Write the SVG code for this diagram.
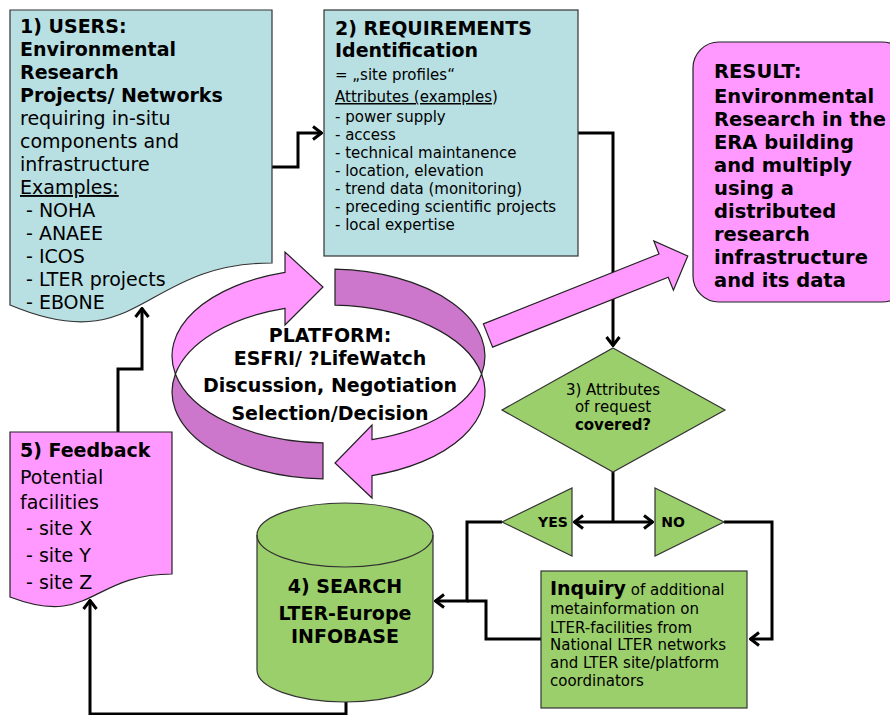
<svg xmlns="http://www.w3.org/2000/svg" width="890" height="715" viewBox="0 0 890 715">
<defs>
<style>
.t{font-family:"DejaVu Sans",Verdana,sans-serif;fill:#000}
.b{font-weight:bold}
.s19{font-size:19px}
.s15{font-size:15px}
.s20{font-size:19.5px}
.s14{font-size:14px}
.blue{fill:#B8DFE2;stroke:#333;stroke-width:1.2}
.green{fill:#9BCF6B;stroke:#333;stroke-width:1.2}
.pink{fill:#FF99FF;stroke:#222;stroke-width:1.2}
.dark{fill:#CC77CC;stroke:#222;stroke-width:1.2}
.c{fill:none;stroke:#000;stroke-width:3}
</style>
<marker id="ah" viewBox="0 0 12 16" refX="11" refY="8" markerWidth="12" markerHeight="16" markerUnits="userSpaceOnUse" orient="auto">
<path d="M2,1.5 L10.5,8 L2,14.5" fill="none" stroke="#000" stroke-width="3"/>
</marker>
</defs>
<rect width="890" height="715" fill="#fff"/>

<g id="connectors">
<polyline class="c" points="272,167 298,167 298,133 322,133" marker-end="url(#ah)"/>
<polyline class="c" points="578,133 613,133 613,346" marker-end="url(#ah)"/>
<polyline class="c" points="613,472 613,522"/>
<polyline class="c" points="613,522 574,522" marker-end="url(#ah)"/>
<polyline class="c" points="613,522 653,522" marker-end="url(#ah)"/>
<polyline class="c" points="502,522 467,522 467,601 435,601" marker-end="url(#ah)"/>
<polyline class="c" points="541,639 486,639 486,601 467,601"/>
<polyline class="c" points="724,522 772,522 772,639 750,639" marker-end="url(#ah)"/>
<polyline class="c" points="346,702 346,714 90,714 90,600" marker-end="url(#ah)"/>
<polyline class="c" points="118,432 118,369 142,369 142,308" marker-end="url(#ah)"/>
</g>

<g id="users">
<path class="blue" d="M10,10 H272 V263 C141,263 141,360 10,305 Z"/>
<text class="t b s19" x="20" y="33">1) USERS:</text>
<text class="t b s19" x="20" y="56">Environmental</text>
<text class="t b s19" x="20" y="79">Research</text>
<text class="t b s19" x="20" y="102">Projects/ Networks</text>
<text class="t s19" x="20" y="125">requiring in-situ</text>
<text class="t s19" x="20" y="148">components and</text>
<text class="t s19" x="20" y="171">infrastructure</text>
<text class="t s19" x="20" y="194" text-decoration="underline">Examples:</text>
<text class="t s19" x="26" y="217">- NOHA</text>
<text class="t s19" x="26" y="240">- ANAEE</text>
<text class="t s19" x="26" y="263">- ICOS</text>
<text class="t s19" x="26" y="286">- LTER projects</text>
<text class="t s19" x="26" y="309">- EBONE</text>
</g>

<g id="requirements">
<rect class="blue" x="324" y="10" width="254" height="246"/>
<text class="t b s19" x="335" y="35">2) REQUIREMENTS</text>
<text class="t b s19" x="335" y="57">Identification</text>
<text class="t s15" x="335" y="80">= „site profiles“</text>
<text class="t s15" x="335" y="102"><tspan text-decoration="underline">Attributes (examples</tspan>)</text>
<text class="t s15" x="335" y="122">- power supply</text>
<text class="t s15" x="335" y="140">- access</text>
<text class="t s15" x="335" y="158">- technical maintanence</text>
<text class="t s15" x="335" y="176">- location, elevation</text>
<text class="t s15" x="335" y="194">- trend data (monitoring)</text>
<text class="t s15" x="335" y="212">- preceding scientific projects</text>
<text class="t s15" x="335" y="230">- local expertise</text>
</g>

<g id="result">
<rect class="pink" x="693" y="42" width="215" height="260" rx="26" ry="26"/>
<text class="t b s20" x="714" y="78">RESULT:</text>
<text class="t b s20" x="714" y="103">Environmental</text>
<text class="t b s20" x="714" y="126">Research in the</text>
<text class="t b s20" x="714" y="149">ERA building</text>
<text class="t b s20" x="714" y="172">and multiply</text>
<text class="t b s20" x="714" y="195">using a</text>
<text class="t b s20" x="714" y="218">distributed</text>
<text class="t b s20" x="714" y="241">research</text>
<text class="t b s20" x="714" y="264">infrastructure</text>
<text class="t b s20" x="714" y="287">and its data</text>
</g>

<g id="result-arrow">
<path class="pink" transform="translate(488,335.5) rotate(-21.7)" d="M0,-12.5 L189,-12.5 L189,-26.5 L215,0 L189,26.5 L189,12.5 L0,12.5 Z"/>
</g>

<g id="platform">
<path class="pink" d="M175.4,374 A156.5,87 0 0 1 285,272.4 L285,252 L323,287 L285,325 L285,308.4 A156.5,87 0 0 0 175.4,374 Z"/>
<path class="dark" d="M335,269.1 A156.5,87 0 0 1 481.6,374 A156.5,87 0 0 0 335,305.1 Z"/>
<path class="pink" d="M481.6,374 A156.5,87 0 0 1 372,475.6 L372,498 L335,463 L372,425 L372,439.6 A156.5,87 0 0 0 481.6,374 Z"/>
<path class="dark" d="M323,442.9 A156.5,87 0 0 1 175.4,374 A156.5,87 0 0 0 323,478.9 Z"/>
<text class="t b s19" x="330" y="342" text-anchor="middle">PLATFORM:</text>
<text class="t b s19" x="330" y="365" text-anchor="middle">ESFRI/ ?LifeWatch</text>
<text class="t b s19" x="330" y="392" text-anchor="middle">Discussion, Negotiation</text>
<text class="t b s19" x="330" y="420" text-anchor="middle">Selection/Decision</text>
</g>

<g id="decision">
<polygon class="green" points="613,348 725,410 613,472 502,410"/>
<text class="t s15" x="613" y="395" text-anchor="middle">3) Attributes</text>
<text class="t s15" x="613" y="412" text-anchor="middle">of request</text>
<text class="t b s15" x="613" y="430" text-anchor="middle">covered?</text>
</g>

<g id="yes">
<polygon class="green" points="502,522 572,488 572,556"/>
<text class="t b s14" x="553" y="527" text-anchor="middle">YES</text>
</g>

<g id="no">
<polygon class="green" points="655,488 724,522 655,556"/>
<text class="t b s14" x="673" y="527" text-anchor="middle">NO</text>
</g>

<g id="inquiry">
<rect class="green" x="541" y="571" width="206" height="137"/>
<text class="t s15" x="550" y="595"><tspan class="b s19">Inquiry</tspan> of additional</text>
<text class="t s15" x="550" y="614">metainformation on</text>
<text class="t s15" x="550" y="633">LTER-facilities from</text>
<text class="t s15" x="550" y="650">National LTER networks</text>
<text class="t s15" x="550" y="668">and LTER site/platform</text>
<text class="t s15" x="550" y="686">coordinators</text>
</g>

<g id="search">
<path class="green" d="M257,535 A88,32 0 0 1 433,535 V670 A88,32 0 0 1 257,670 Z"/>
<path fill="none" stroke="#333" stroke-width="1.2" d="M257,535 A88,32 0 0 0 433,535"/>
<text class="t b s19" x="345" y="593" text-anchor="middle">4) SEARCH</text>
<text class="t b s19" x="345" y="620" text-anchor="middle">LTER-Europe</text>
<text class="t b s19" x="345" y="643" text-anchor="middle">INFOBASE</text>
</g>

<g id="feedback">
<path class="pink" d="M10,432 H172 V574 C91,574 91,628 10,597 Z"/>
<text class="t b s19" x="20" y="457">5) Feedback</text>
<text class="t s19" x="20" y="484">Potential</text>
<text class="t s19" x="20" y="509">facilities</text>
<text class="t s19" x="26" y="535">- site X</text>
<text class="t s19" x="26" y="562">- site Y</text>
<text class="t s19" x="26" y="589">- site Z</text>
</g>
</svg>
